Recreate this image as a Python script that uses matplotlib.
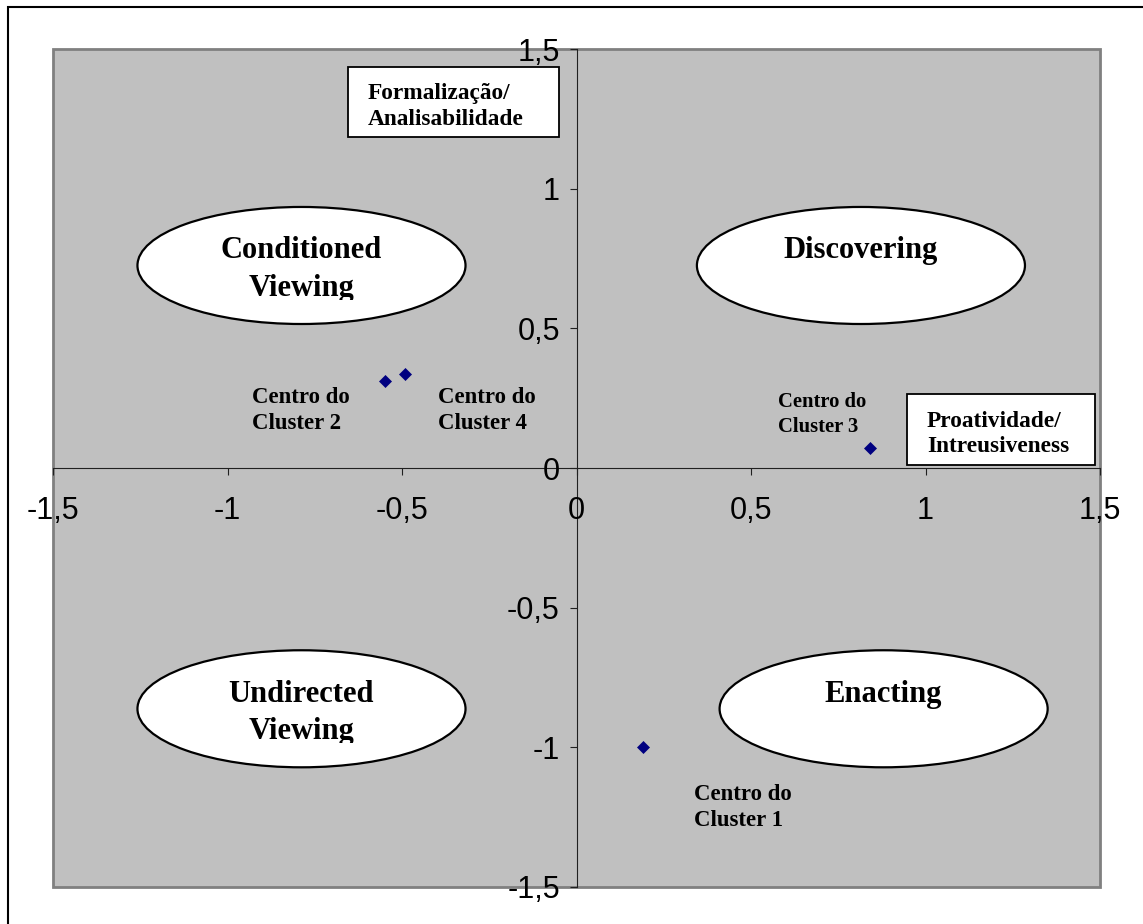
import matplotlib
matplotlib.use("Agg")
import matplotlib.pyplot as plt
from matplotlib.patches import Ellipse, Rectangle

# ---- data ----
cluster_labels = ["Centro do\nCluster 1", "Centro do\nCluster 2",
                  "Centro do\nCluster 3", "Centro do\nCluster 4"]
x_vals = [0.19, -0.55, 0.84, -0.49]
y_vals = [-1.0, 0.31, 0.07, 0.335]
tick_vals = [-1.5, -1.0, -0.5, 0.0, 0.5, 1.0, 1.5]
tick_labels = ["-1,5", "-1", "-0,5", "0", "0,5", "1", "1,5"]
quadrant_names = ["Conditioned\nViewing", "Discovering",
                  "Undirected\nViewing", "Enacting"]
axis_names = ["Formalização/\nAnalisabilidade", "Proatividade/\nIntreusiveness"]

# ---- layout ----
SERIF = ["Liberation Serif", "DejaVu Serif"]
SANS = ["Liberation Sans", "DejaVu Sans"]

fig = plt.figure(figsize=(11.43, 9.24), dpi=100)
fig.patch.set_facecolor("white")
ax = fig.add_axes([53 / 1143, 1 - 887 / 924, (1100 - 53) / 1143, (887 - 49) / 924])
ax.set_xlim(-1.5, 1.5)
ax.set_ylim(-1.5, 1.5)
ax.set_facecolor("#C0C0C0")
ax.patch.set_edgecolor("#808080")
ax.patch.set_linewidth(2.0)

for s in ["top", "right"]:
    ax.spines[s].set_visible(False)
ax.spines["left"].set_position("zero")
ax.spines["bottom"].set_position("zero")
for s in ["left", "bottom"]:
    ax.spines[s].set_color("#202020")
    ax.spines[s].set_linewidth(0.8)
    ax.spines[s].set_zorder(1.5)

ax.set_xticks(tick_vals)
ax.set_xticklabels(tick_labels, fontfamily=SANS, fontsize=22)
ax.set_yticks(tick_vals)
ax.set_yticklabels(tick_labels, fontfamily=SANS, fontsize=22)
ax.tick_params(axis="x", direction="out", length=5, width=0.8, pad=15.5, color="#202020")
ax.tick_params(axis="y", direction="out", length=5, width=0.8, pad=7, color="#202020")

# quadrant ellipses
ell_centers = [(-0.788, 0.725), (0.815, 0.725), (-0.788, -0.862), (0.88, -0.862)]
ell_w, ell_h = 0.94, 0.419
for (cx, cy), name in zip(ell_centers, quadrant_names):
    e = Ellipse((cx, cy), ell_w, ell_h, facecolor="white", edgecolor="black",
                linewidth=1.6, zorder=3)
    ax.add_patch(e)
    t = ax.text(cx, cy + 0.104, name, ha="center", va="top", multialignment="center",
                fontfamily=SERIF, fontweight="bold", fontsize=22, zorder=4,
                linespacing=1.39, clip_on=True)
    clip = Rectangle((cx - ell_w / 2, cy - 0.124), ell_w, 0.35, transform=ax.transData)
    t.set_clip_path(clip)

# axis name boxes
box_rects = [(-0.655, 1.184, 0.6035, 0.251), (0.948, 0.012, 0.537, 0.253)]
box_text_pos = [(-0.598, 1.377), (1.004, 0.205)]
for (bx, by, bw, bh), (tx, ty), name in zip(box_rects, box_text_pos, axis_names):
    ax.add_patch(Rectangle((bx, by), bw, bh, facecolor="white", edgecolor="black",
                           linewidth=1.3, zorder=3))
    ax.text(tx, ty, name, ha="left", va="top", fontfamily=SERIF, fontweight="bold",
            fontsize=16.8, zorder=4, linespacing=1.29)

# cluster centres
ax.plot(x_vals, y_vals, linestyle="none", marker="D", markersize=6.5,
        markerfacecolor="#000080", markeredgecolor="#000080", markeredgewidth=0.5,
        zorder=5, clip_on=False)

label_pos = [(0.338, -1.131), (-0.931, 0.29), (0.578, 0.272), (-0.398, 0.29)]
label_size = [16.4, 16.4, 14.9, 16.4]
for (lx, ly), lab, fs in zip(label_pos, cluster_labels, label_size):
    ax.text(lx, ly, lab, ha="left", va="top", fontfamily=SERIF, fontweight="bold",
            fontsize=fs, zorder=4, linespacing=1.31)

# outer frame (top and left edges visible)
fig.add_artist(Rectangle((8 / 1143, -0.05), 1.2, 1 - 7 / 924 + 0.05,
                         transform=fig.transFigure, fill=False,
                         edgecolor="black", linewidth=1.5))

fig.savefig("out.png", dpi=100)
